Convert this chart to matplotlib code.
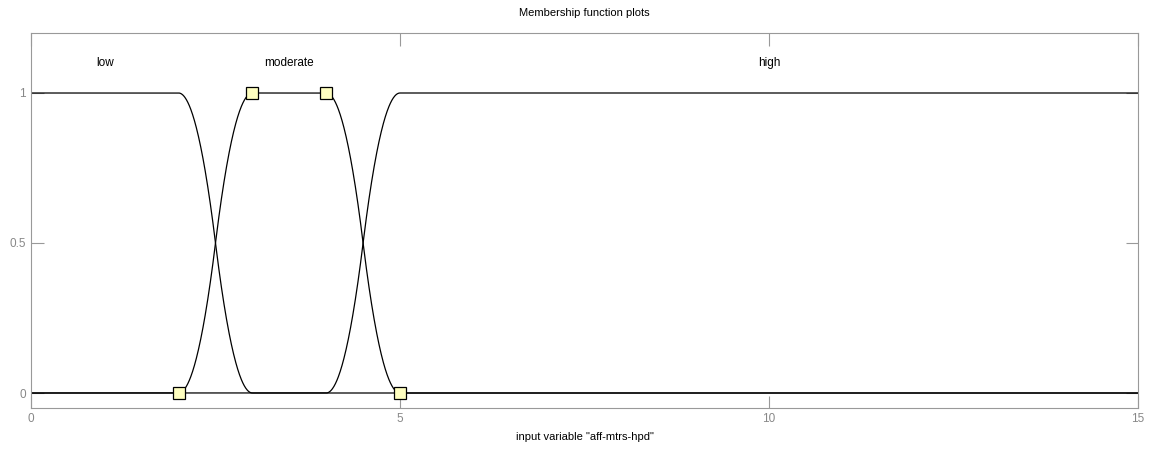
import numpy as np
import matplotlib.pyplot as plt

plt.rcParams["font.family"] = ["Liberation Sans", "DejaVu Sans"]

# membership function parameters (input variable "aff-mtrs-hpd", range 0..15)
mf_names = ["low", "moderate", "high"]
low_params = [2, 3]              # zmf
moderate_params = [2, 3, 4, 5]   # pimf
high_params = [4, 5]             # smf
label_x = [1, 3.5, 10]
x_range = [0, 15]


def smf(x, a, b):
    y = np.zeros_like(x)
    m = (a + b) / 2
    i1 = (x > a) & (x <= m)
    i2 = (x > m) & (x < b)
    y[i1] = 2 * ((x[i1] - a) / (b - a)) ** 2
    y[i2] = 1 - 2 * ((x[i2] - b) / (b - a)) ** 2
    y[x >= b] = 1
    return y


def zmf(x, a, b):
    return 1 - smf(x, a, b)


def pimf(x, a, b, c, d):
    return np.minimum(smf(x, a, b), zmf(x, c, d))


x = np.linspace(x_range[0], x_range[1], 3001)
curves = [zmf(x, *low_params), pimf(x, *moderate_params), smf(x, *high_params)]

fig = plt.figure(figsize=(11.52, 4.49), dpi=100)
ax = fig.add_axes([31 / 1152, 41 / 449, 1107 / 1152, 375 / 449])

for y in curves:
    ax.plot(x, y, color="black", lw=0.9)

# selected MF handles
px = moderate_params
py = [0, 1, 1, 0]
ax.plot(px, py, linestyle="none", marker="s", markersize=9,
        markerfacecolor="#ffffc0", markeredgecolor="black", markeredgewidth=0.9)

for name, lx in zip(mf_names, label_x):
    ax.text(lx, 1.1, name, ha="center", va="center", fontsize=8.5, color="black")

ax.set_xlim(x_range)
ax.set_ylim(-0.05, 1.2)
ax.set_xticks([0, 5, 10, 15])
ax.set_yticks([0, 0.5, 1])
ax.set_yticklabels(["0", "0.5", "1"])
ax.tick_params(direction="in", top=True, right=True, length=9, color="#999999",
               labelcolor="#888888", labelsize=8.5)
for s in ax.spines.values():
    s.set_color("#999999")

ax.set_title("Membership function plots", fontsize=8, pad=12)
ax.set_xlabel('input variable "aff-mtrs-hpd"', fontsize=8, labelpad=5)

plt.savefig("out.png", dpi=100)
